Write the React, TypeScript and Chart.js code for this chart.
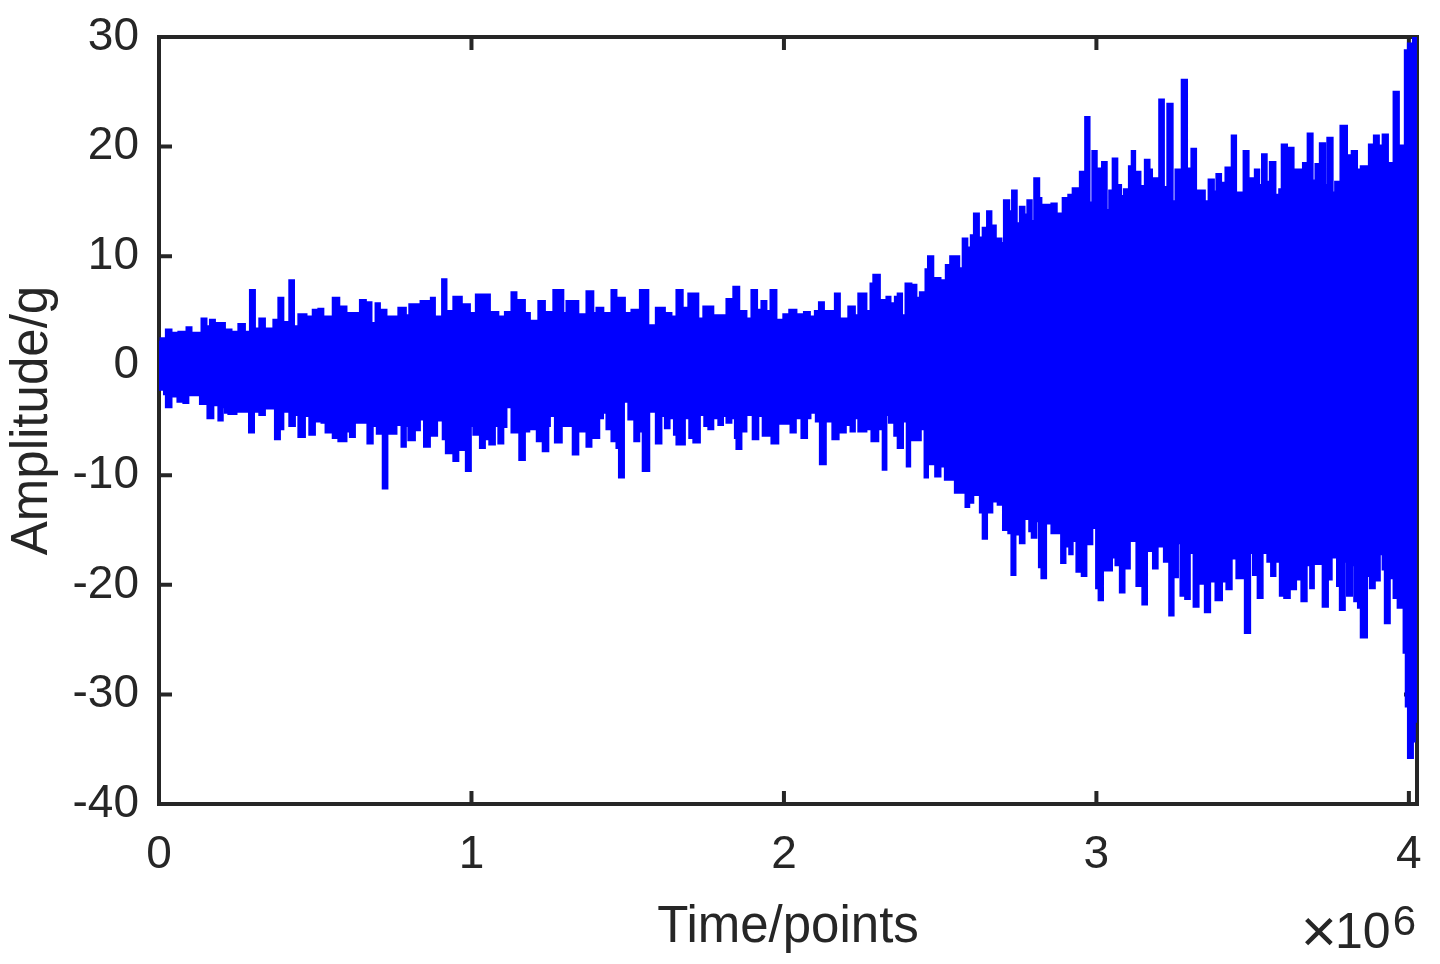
import React, { useEffect, useRef } from 'react';
import { Chart, registerables } from 'chart.js';

Chart.register(...registerables);

// ---------------- data ----------------
const SIGNAL_LENGTH = 4026000; // samples
const X_TICKS = [0, 1, 2, 3, 4]; // in units of 10^6 points
const X_TICK_LABELS = ['0', '1', '2', '3', '4'];
const Y_TICKS = [-40, -30, -20, -10, 0, 10, 20, 30];
const Y_TICK_LABELS = ['-40', '-30', '-20', '-10', '0', '10', '20', '30'];
const X_TITLE = 'Time/points';
const Y_TITLE = 'Amplitude/g';
const X_MULTIPLIER_SIGN = '\u00d7';
const X_MULTIPLIER_BASE = '10';
const X_EXPONENT = '6';

// Upper envelope of the vibration signal: [start sample (thousands), max amplitude (g)]
const upperEnvelope: [number, number][] = [
  [0, 2.2], [5, 2.5], [22, 3.3], [40, 3.0], [62, 3.1], [82, 2.8], [88, 3.5], [104, 3.0],
  [136, 4.3], [152, 3.6], [163, 4.2], [179, 3.9], [211, 3.3], [232, 3.1], [254, 3.8], [275, 3.1],
  [291, 6.9], [307, 3.4], [321, 4.3], [339, 3.4], [366, 4.2], [382, 6.2], [398, 4.0], [417, 7.8],
  [432, 3.6], [446, 4.7], [472, 4.5], [492, 5.1], [510, 5.2], [526, 4.5], [556, 6.2], [577, 5.4],
  [600, 4.8], [643, 6.0], [662, 5.8], [680, 3.9], [693, 5.7], [707, 5.1], [728, 4.5], [766, 5.3],
  [790, 4.6], [801, 5.6], [837, 5.9], [870, 6.2], [883, 4.5], [906, 7.9], [920, 5.0], [942, 6.3],
  [969, 5.6], [995, 4.8], [1014, 6.5], [1059, 4.9], [1086, 4.5], [1107, 4.9], [1128, 6.7], [1144, 6.0],
  [1171, 4.8], [1187, 4.1], [1214, 5.9], [1235, 4.9], [1262, 6.9], [1294, 4.8], [1304, 5.9], [1342, 4.7],
  [1368, 6.8], [1390, 4.8], [1400, 5.3], [1422, 4.8], [1448, 6.9], [1464, 6.2], [1491, 4.8], [1512, 5.1],
  [1539, 6.9], [1566, 3.7], [1590, 5.3], [1619, 4.8], [1640, 4.5], [1656, 6.9], [1676, 5.3], [1694, 6.6],
  [1726, 4.3], [1742, 5.4], [1774, 4.6], [1816, 6.1], [1838, 7.2], [1857, 5.0], [1880, 4.3], [1896, 6.9],
  [1914, 5.1], [1928, 5.9], [1944, 5.0], [1957, 6.9], [1976, 4.2], [1998, 4.7], [2017, 5.1], [2040, 4.7],
  [2064, 4.9], [2083, 4.5], [2099, 5.0], [2112, 5.8], [2128, 5.0], [2163, 6.6], [2179, 4.3], [2206, 5.4],
  [2227, 4.6], [2238, 6.6], [2264, 5.0], [2277, 7.5], [2286, 8.3], [2307, 4.8], [2313, 6.0], [2328, 6.3],
  [2341, 5.4], [2347, 5.7], [2355, 6.3], [2364, 6.6], [2378, 4.6], [2389, 7.5], [2408, 5.0], [2412, 7.4],
  [2424, 6.2], [2435, 6.7], [2453, 8.8], [2461, 10.0], [2478, 6.8], [2484, 8.0], [2501, 7.8], [2518, 9.2],
  [2532, 10.0], [2561, 8.9], [2572, 11.6], [2587, 10.8], [2598, 11.9], [2608, 13.9], [2624, 11.7], [2636, 12.6],
  [2650, 14.1], [2664, 12.8], [2678, 11.6], [2696, 11.2], [2704, 15.1], [2721, 14.1], [2730, 16.0], [2745, 13.0],
  [2755, 14.5], [2770, 13.8], [2779, 15.1], [2793, 13.2], [2801, 17.1], [2817, 15.3], [2824, 14.7], [2856, 14.8],
  [2873, 13.9], [2892, 15.3], [2910, 15.6], [2924, 16.2], [2941, 15.1], [2947, 17.7], [2964, 22.7], [2978, 14.9],
  [2987, 19.6], [3001, 15.9], [3007, 18.0], [3018, 18.6], [3033, 14.2], [3041, 16.0], [3052, 18.9], [3067, 16.5],
  [3079, 15.5], [3088, 16.1], [3104, 18.2], [3113, 19.6], [3124, 17.7], [3141, 16.4], [3155, 18.8], [3170, 17.9],
  [3178, 17.1], [3201, 24.3], [3216, 16.3], [3227, 23.9], [3244, 15.0], [3253, 17.9], [3273, 26.1], [3290, 18.0],
  [3304, 19.8], [3319, 16.0], [3347, 15.0], [3359, 17.0], [3376, 15.9], [3384, 17.5], [3399, 16.7], [3413, 18.1],
  [3433, 21.0], [3447, 15.8], [3471, 19.6], [3487, 17.1], [3501, 16.4], [3507, 17.9], [3521, 16.5], [3530, 19.3],
  [3545, 16.8], [3555, 18.6], [3573, 15.6], [3585, 16.1], [3593, 20.2], [3610, 19.3], [3616, 19.9], [3631, 17.1],
  [3636, 17.9], [3661, 18.5], [3676, 21.2], [3692, 16.9], [3701, 18.4], [3715, 20.3], [3732, 16.5], [3739, 20.8],
  [3756, 15.8], [3764, 16.8], [3781, 21.9], [3802, 19.2], [3817, 19.6], [3834, 17.9], [3846, 18.2], [3872, 20.2],
  [3888, 21.0], [3904, 20.1], [3916, 21.1], [3933, 18.5], [3951, 25.0], [3968, 18.2], [3974, 20.1], [3987, 28.8],
  [3997, 29.4], [4013, 29.9],
];

// Lower envelope of the vibration signal: [start sample (thousands), min amplitude (g)]
const lowerEnvelope: [number, number][] = [
  [0, -2.2], [16, -2.6], [22, -3.8], [40, -2.8], [59, -3.3], [78, -3.4], [94, -2.7], [131, -3.5],
  [155, -4.8], [174, -3.6], [190, -5.0], [204, -3.8], [211, -4.3], [222, -4.4], [248, -4.2], [288, -6.1],
  [304, -4.2], [321, -4.5], [339, -3.9], [371, -6.7], [387, -5.8], [398, -4.2], [417, -5.5], [435, -4.5],
  [446, -6.5], [467, -4.6], [481, -6.3], [499, -5.1], [520, -5.2], [533, -6.1], [556, -6.6], [574, -6.9],
  [600, -6.0], [611, -6.5], [627, -5.2], [667, -7.1], [684, -5.5], [697, -6.2], [716, -11.2], [731, -6.2],
  [760, -5.4], [776, -7.4], [790, -5.5], [798, -6.8], [819, -5.9], [835, -4.9], [848, -7.4], [867, -5.6],
  [872, -6.4], [890, -5.0], [908, -6.7], [918, -8.0], [937, -5.5], [942, -8.7], [958, -7.7], [979, -6.0],
  [982, -9.6], [998, -5.5], [1006, -6.3], [1027, -7.5], [1043, -6.7], [1057, -7.2], [1075, -5.5], [1086, -7.1],
  [1102, -5.6], [1112, -3.8], [1128, -6.1], [1153, -8.6], [1171, -6.0], [1185, -5.8], [1209, -6.9], [1228, -7.8],
  [1246, -5.5], [1251, -4.6], [1267, -7.0], [1289, -5.5], [1324, -8.1], [1342, -6.0], [1368, -7.4], [1384, -6.6],
  [1409, -4.8], [1421, -4.3], [1432, -5.8], [1448, -6.9], [1464, -7.5], [1472, -10.2], [1488, -3.3], [1502, -4.9],
  [1521, -6.9], [1537, -6.0], [1548, -9.6], [1569, -4.2], [1590, -7.1], [1608, -4.6], [1619, -5.7], [1634, -4.8],
  [1648, -6.3], [1656, -7.2], [1683, -4.8], [1697, -6.6], [1710, -7.0], [1731, -4.5], [1745, -5.5], [1758, -5.8],
  [1774, -4.8], [1790, -5.4], [1805, -4.6], [1816, -5.2], [1832, -4.8], [1843, -6.6], [1848, -7.6], [1864, -6.0],
  [1880, -4.5], [1900, -6.7], [1918, -4.6], [1932, -6.4], [1955, -4.8], [1960, -7.1], [1982, -5.3], [2021, -6.1],
  [2038, -4.8], [2051, -3.7], [2056, -6.6], [2074, -4.8], [2085, -4.3], [2102, -5.1], [2115, -9.0], [2134, -5.1],
  [2155, -6.7], [2175, -6.1], [2198, -5.4], [2213, -6.0], [2227, -4.8], [2238, -6.0], [2264, -5.8], [2280, -6.9],
  [2302, -4.2], [2307, -5.8], [2316, -9.5], [2328, -4.5], [2336, -5.2], [2353, -6.4], [2364, -7.5], [2381, -5.1],
  [2393, -9.2], [2404, -6.8], [2438, -5.8], [2450, -10.2], [2461, -9.0], [2484, -10.1], [2501, -9.2], [2515, -10.4],
  [2547, -11.6], [2581, -12.9], [2593, -12.5], [2606, -11.8], [2627, -13.4], [2636, -15.8], [2650, -13.4], [2667, -12.4],
  [2684, -12.7], [2701, -15.0], [2718, -15.3], [2728, -19.1], [2741, -15.4], [2755, -16.2], [2770, -14.0], [2785, -15.1],
  [2793, -15.7], [2808, -14.2], [2816, -18.4], [2824, -19.4], [2839, -14.4], [2856, -15.3], [2887, -18.0], [2901, -16.5],
  [2913, -17.2], [2924, -16.0], [2936, -18.8], [2953, -19.2], [2968, -16.3], [2987, -14.8], [2999, -20.3], [3007, -21.4],
  [3021, -18.7], [3050, -17.5], [3061, -18.2], [3075, -20.7], [3090, -18.5], [3107, -16.0], [3128, -20.1], [3147, -21.8],
  [3162, -16.9], [3181, -18.5], [3196, -16.5], [3216, -17.9], [3233, -22.8], [3247, -19.3], [3261, -16.2], [3269, -21.0],
  [3284, -21.3], [3299, -17.1], [3311, -22.0], [3327, -19.9], [3347, -22.5], [3364, -19.7], [3381, -21.4], [3402, -19.7],
  [3416, -20.4], [3433, -17.6], [3448, -19.4], [3475, -24.4], [3492, -17.1], [3501, -19.1], [3516, -21.2], [3532, -17.1],
  [3547, -17.9], [3559, -19.2], [3573, -17.9], [3587, -21.0], [3601, -21.2], [3619, -20.4], [3639, -19.5], [3656, -21.5],
  [3673, -18.2], [3684, -20.3], [3696, -18.1], [3724, -22.0], [3741, -19.5], [3753, -17.5], [3770, -20.1], [3779, -22.3],
  [3795, -17.9], [3802, -21.0], [3818, -18.2], [3825, -21.5], [3837, -22.1], [3846, -24.8], [3866, -19.2], [3875, -20.3],
  [3891, -19.6], [3907, -17.2], [3916, -18.6], [3923, -23.5], [3939, -19.4], [3951, -21.2], [3964, -22.1], [3983, -26.2],
  [3990, -31.1], [3997, -35.8], [4013, -34.3], [4019, -32.5],
];

// ---------------- styles ----------------
const BLUE = '#0000ff';
const AXIS_COLOR = '#262626';
const FONT = '"Liberation Sans", Arial, Helvetica, sans-serif';

function toSteps(env: [number, number][]) {
  const pts = env.map(([k, v]) => ({ x: k * 1000, y: v }));
  pts.push({ x: SIGNAL_LENGTH, y: env[env.length - 1][1] });
  return pts;
}

const framePlugin = {
  id: 'matlabFrame',
  beforeDatasetsDraw(chart: any) {
    const { ctx, chartArea: a, scales } = chart;
    const xs = scales.x;
    const ys = scales.y;
    const tick = 13;
    ctx.save();
    ctx.strokeStyle = AXIS_COLOR;
    ctx.lineWidth = 4;
    ctx.lineCap = 'butt';
    ctx.lineJoin = 'miter';
    ctx.strokeRect(a.left, a.top, a.right - a.left, a.bottom - a.top);
    ctx.beginPath();
    X_TICKS.forEach((t) => {
      const px = xs.getPixelForValue(t * 1e6);
      ctx.moveTo(px, a.bottom);
      ctx.lineTo(px, a.bottom - tick);
      ctx.moveTo(px, a.top);
      ctx.lineTo(px, a.top + tick);
    });
    Y_TICKS.forEach((t) => {
      const py = ys.getPixelForValue(t);
      ctx.moveTo(a.left, py);
      ctx.lineTo(a.left + tick, py);
      ctx.moveTo(a.right, py);
      ctx.lineTo(a.right - tick, py);
    });
    ctx.stroke();
    ctx.restore();
  },
  afterDraw(chart: any) {
    const { ctx, chartArea: a } = chart;
    ctx.save();
    ctx.fillStyle = AXIS_COLOR;
    ctx.textBaseline = 'alphabetic';
    // x title
    ctx.font = `51px ${FONT}`;
    ctx.textAlign = 'center';
    ctx.fillText(X_TITLE, (a.left + a.right) / 2, 942);
    // y title
    ctx.save();
    ctx.translate(47, (a.top + a.bottom) / 2);
    ctx.rotate(-Math.PI / 2);
    ctx.fillText(Y_TITLE, 0, 0);
    ctx.restore();
    // x10^6 multiplier
    ctx.textAlign = 'left';
    ctx.font = `62px ${FONT}`;
    const wSign = ctx.measureText(X_MULTIPLIER_SIGN).width;
    ctx.font = `50px ${FONT}`;
    const wBase = ctx.measureText(X_MULTIPLIER_BASE).width;
    ctx.font = `42px ${FONT}`;
    const wExp = ctx.measureText(X_EXPONENT).width;
    const startX = a.right - 1 - wExp - 2 - wBase - wSign + 6;
    ctx.font = `62px ${FONT}`;
    ctx.fillText(X_MULTIPLIER_SIGN, startX - 4, 952);
    ctx.font = `50px ${FONT}`;
    ctx.fillText(X_MULTIPLIER_BASE, startX + wSign - 6, 948);
    ctx.font = `42px ${FONT}`;
    ctx.fillText(X_EXPONENT, startX + wSign - 6 + wBase + 2, 935);
    ctx.restore();
  },
};

export default function App() {
  const ref = useRef<HTMLCanvasElement>(null);
  useEffect(() => {
    document.body.style.margin = '0';
    const canvas = ref.current;
    if (!canvas) return;
    const tickFont = { family: FONT, size: 46 };
    const chart = new Chart(canvas, {
      type: 'line',
      data: {
        datasets: [
          {
            label: 'upper',
            data: toSteps(upperEnvelope),
            borderColor: BLUE,
            backgroundColor: BLUE,
            borderWidth: 2,
            pointRadius: 0,
            stepped: 'before',
            fill: { value: -0.6 },
            clip: 3,
          },
          {
            label: 'lower',
            data: toSteps(lowerEnvelope),
            borderColor: BLUE,
            backgroundColor: BLUE,
            borderWidth: 2,
            pointRadius: 0,
            stepped: 'before',
            fill: { value: 0.6 },
            clip: 3,
          },
        ],
      } as any,
      options: {
        animation: false,
        responsive: false,
        events: [],
        layout: { padding: { top: 37, right: 23, left: 0, bottom: 0 } },
        plugins: {
          legend: { display: false },
          tooltip: { enabled: false },
        },
        scales: {
          x: {
            type: 'linear',
            min: 0,
            max: SIGNAL_LENGTH,
            grid: { display: false, drawTicks: false },
            border: { display: false },
            afterBuildTicks: (s: any) => {
              s.ticks = X_TICKS.map((v) => ({ value: v * 1e6 }));
            },
            afterFit: (s: any) => {
              s.height = 160;
              s.paddingLeft = 0;
              s.paddingRight = 0;
            },
            ticks: {
              autoSkip: false,
              maxRotation: 0,
              minRotation: 0,
              padding: 24,
              color: AXIS_COLOR,
              font: tickFont,
              callback: (_v: any, i: number) => X_TICK_LABELS[i],
            },
          },
          y: {
            type: 'linear',
            min: -40,
            max: 30,
            grid: { display: false, drawTicks: false },
            border: { display: false },
            afterBuildTicks: (s: any) => {
              s.ticks = Y_TICKS.map((v) => ({ value: v }));
            },
            afterFit: (s: any) => {
              s.width = 159;
              s.paddingTop = 0;
              s.paddingBottom = 0;
            },
            ticks: {
              autoSkip: false,
              padding: 20,
              color: AXIS_COLOR,
              font: tickFont,
              callback: (_v: any, i: number) => Y_TICK_LABELS[i],
            },
          },
        },
      } as any,
      plugins: [framePlugin],
    });
    return () => chart.destroy();
  }, []);
  return (
    <div style={{ width: 1440, height: 964 }}>
      <canvas ref={ref} width={1440} height={964} style={{ display: 'block' }} />
    </div>
  );
}
